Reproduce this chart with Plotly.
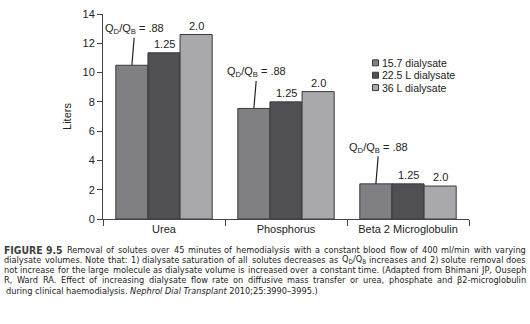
import re
import plotly.graph_objects as go

# Solute removal (liters cleared) over 45 min for three dialysate volumes
categories = ["Urea", "Phosphorus", "Beta 2 Microglobulin"]
series_names = ["15.7 dialysate", "22.5 L dialysate", "36 L dialysate"]
removal_15_7 = [10.5, 7.55, 2.4]
removal_22_5 = [11.35, 8.0, 2.4]
removal_36 = [12.6, 8.7, 2.25]
qd_qb_labels = [".88", "1.25", "2.0"]

caption_lines = [
    "<b>FIGURE 9.5</b> Removal of solutes over 45 minutes of hemodialysis with a constant blood flow of 400 ml/min with varying",
    "dialysate volumes. Note that: 1) dialysate saturation of all solutes decreases as Q<sub>D</sub>/Q<sub>B</sub> increases and 2) solute removal does",
    "not increase for the large molecule as dialysate volume is increased over a constant time. (Adapted from Bhimani JP, Ouseph",
    "R, Ward RA. Effect of increasing dialysate flow rate on diffusive mass transfer or urea, phosphate and \u03b22-microglobulin",
    "during clinical haemodialysis. <i>Nephrol Dial Transplant</i> 2010;25:3990\u20133995.)",
]

series_values = [removal_15_7, removal_22_5, removal_36]
fill_colors = ["#7f7f84", "#4f4f54", "#a9a9ad"]
edge_color = "#3a3a3a"
font_main = "Liberation Sans, Arial, sans-serif"
font_caption = "DejaVu Sans Condensed, DejaVu Sans, sans-serif"

W, H = 530, 324
M_L, M_R, M_T, M_B = 103, 61, 8, 105
PLOT_W = W - M_L - M_R
PLOT_H = H - M_T - M_B


def px_to_paper(px, py):
    """Convert a pixel position in the figure to plot-area paper coordinates."""
    return (px - M_L) / PLOT_W, (M_T + PLOT_H - py) / PLOT_H


# Approximate advance widths (DejaVu Sans, 1/1000 em) for justifying the caption
_W = {" ": 318, ".": 318, ",": 318, ":": 337, ";": 337, "-": 361, "/": 337,
      "(": 390, ")": 390, "\u2013": 500, "\u03b2": 636}
_W.update({c: 636 for c in "0123456789"})
_W.update(dict(zip("ABCDEFGHIJKLMNOPQRSTUVWXYZ",
                   [684, 686, 698, 770, 632, 575, 775, 752, 295, 295, 656, 557, 863,
                    748, 787, 603, 787, 695, 635, 611, 732, 684, 989, 685, 611, 685])))
_W.update(dict(zip("abcdefghijklmnopqrstuvwxyz",
                   [613, 635, 550, 635, 615, 352, 635, 634, 278, 278, 579, 278, 974,
                    634, 612, 635, 635, 411, 521, 392, 634, 592, 818, 592, 592, 525])))
CONDENSED = 0.9
BOLD_GROW = 1.2


def text_width(markup, size):
    width, sub, bold = 0.0, False, False
    for tok in re.split(r"(<[^>]+>)", markup):
        if tok.startswith("<"):
            tag = tok.strip("</>")
            if tag == "sub":
                sub = not tok.startswith("</")
            if tag == "b":
                bold = not tok.startswith("</")
            continue
        for ch in tok:
            w = _W.get(ch, 620) * (0.7 if sub else 1.0)
            if bold:
                w *= 1.12 * (size + BOLD_GROW) / size
            width += w
    return width / 1000 * size * CONDENSED


def split_words(markup):
    """Split a line into words, closing and reopening b/i tags across words."""
    words, open_tags = [], []
    for raw in markup.split(" "):
        word = "".join(f"<{t}>" for t in open_tags) + raw
        for m in re.finditer(r"<(/?)(b|i)>", raw):
            if m.group(1):
                if m.group(2) in open_tags:
                    open_tags.remove(m.group(2))
            else:
                open_tags.append(m.group(2))
        word += "".join(f"</{t}>" for t in reversed(open_tags))
        words.append(word)
    return words


BARGAP = 0.21
bar_w = (1 - BARGAP) / len(series_values)

fig = go.Figure()
for name, vals, col in zip(series_names, series_values, fill_colors):
    fig.add_trace(go.Bar(
        x=categories, y=vals, name=name,
        marker=dict(color=col, line=dict(color=edge_color, width=1)),
        showlegend=False,
    ))

annotations = []
# Q_D/Q_B ratio labels over each bar group
for ci in range(len(categories)):
    for si, vals in enumerate(series_values):
        xpos = ci + (si - 1) * bar_w
        if si == 0:
            annotations.append(dict(
                x=xpos, y=vals[ci], xref="x", yref="y",
                text="Q<sub>D</sub>/Q<sub>B</sub> = " + qd_qb_labels[si],
                showarrow=True, arrowhead=0, arrowwidth=1.2, arrowcolor="#222",
                ax=3, ay=-36, standoff=0,
                font=dict(family=font_main, size=11, color="#222"),
            ))
        else:
            annotations.append(dict(
                x=xpos, y=vals[ci], xref="x", yref="y",
                text=qd_qb_labels[si], showarrow=False,
                yanchor="middle", yshift=9,
                font=dict(family=font_main, size=11, color="#222"),
            ))

# Legend block (small squares with labels)
shapes = []
for i, (name, col) in enumerate(zip(series_names, fill_colors)):
    lx, ly = px_to_paper(375.5, 58.3 + i * 12.7)
    shapes.append(dict(
        type="rect", xref="paper", yref="paper",
        xsizemode="pixel", ysizemode="pixel",
        xanchor=lx, yanchor=ly, x0=-3, x1=3, y0=-3, y1=3,
        fillcolor=col, line=dict(color=edge_color, width=1),
    ))
    annotations.append(dict(
        x=lx, y=ly, xref="paper", yref="paper", xshift=4,
        text=name, showarrow=False, xanchor="left", yanchor="middle",
        font=dict(family=font_main, size=10.5, color="#222"),
    ))

# Figure caption, justified between the left and right text margins
CAP_SIZE = 9.15
CAP_LEFT, CAP_RIGHT = 4, 526
CAP_TOP, CAP_STEP = 251, 10.4
for li, line in enumerate(caption_lines):
    py = CAP_TOP + li * CAP_STEP
    if li == len(caption_lines) - 1:
        # final paragraph line stays ragged
        cx, cy = px_to_paper(CAP_LEFT, py)
        annotations.append(dict(
            x=cx, y=cy, xref="paper", yref="paper",
            text=line, showarrow=False, xanchor="left", yanchor="middle",
            font=dict(family=font_caption, size=CAP_SIZE, color="#1a1a1a"),
        ))
        continue
    words = split_words(line)
    widths = [text_width(w, CAP_SIZE) for w in words]
    gap = (CAP_RIGHT - CAP_LEFT - sum(widths)) / (len(words) - 1)
    x = CAP_LEFT
    for w, ww in zip(words, widths):
        cx, cy = px_to_paper(x + ww / 2, py)
        bold = w.startswith("<b>")
        annotations.append(dict(
            x=cx, y=cy, xref="paper", yref="paper",
            text=w, showarrow=False, xanchor="center", yanchor="middle",
            font=dict(family=font_caption, size=CAP_SIZE + (BOLD_GROW if bold else 0),
                      color="#404040" if bold else "#1a1a1a"),
        ))
        x += ww + gap

fig.update_layout(
    width=W, height=H,
    margin=dict(l=M_L, r=M_R, t=M_T, b=M_B),
    paper_bgcolor="white", plot_bgcolor="white",
    barmode="group", bargap=BARGAP, bargroupgap=0,
    font=dict(family=font_main, size=11, color="#222"),
    annotations=annotations, shapes=shapes,
    showlegend=False,
)
fig.update_xaxes(
    showline=True, linecolor="#444", linewidth=1,
    ticks="outside", tickson="boundaries", ticklen=6, tickcolor="#444",
    showgrid=False, tickfont=dict(size=11),
)
fig.update_yaxes(
    range=[0, 14], dtick=2, showline=True, linecolor="#444", linewidth=1,
    ticks="outside", ticklen=5, tickcolor="#444", showgrid=False, zeroline=False,
    tickfont=dict(size=11),
    title=dict(text="Liters", standoff=8, font=dict(size=11)),
)

fig.write_html("out.html")
